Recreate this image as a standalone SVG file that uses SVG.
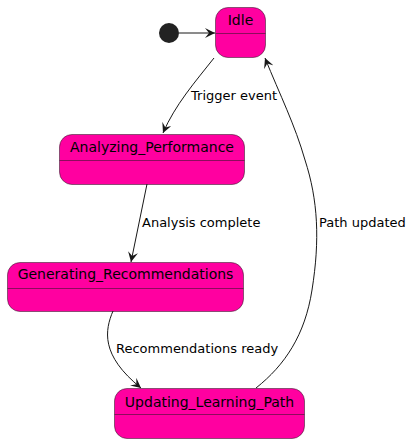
<svg xmlns="http://www.w3.org/2000/svg" width="413" height="443" viewBox="0 0 413 443">
<style>
.st{fill:#FF00A0;stroke:#181818;stroke-width:0.5}
.div{stroke:#181818;stroke-width:0.5}
.name{font-family:"DejaVu Sans",sans-serif;font-size:14px;fill:#000}
.lbl{font-family:"DejaVu Sans",sans-serif;font-size:13px;fill:#000}
.c{fill:none;stroke:#181818;stroke-width:1}
</style>
<defs>
<marker id="ah" viewBox="0 0 10 10" markerWidth="10" markerHeight="10" markerUnits="userSpaceOnUse" refX="10" refY="5" orient="auto">
<path d="M0,0 L10,5 L0,10 L4,5 Z" fill="#181818"/>
</marker>
</defs>
<g id="start"><circle cx="169" cy="33" r="10" fill="#222222"/></g>
<g id="idle">
<rect class="st" x="215.5" y="7.5" width="50" height="50" rx="12.5"/>
<line class="div" x1="215.5" y1="33.5" x2="265.5" y2="33.5"/>
<text class="name" x="240.5" y="25" text-anchor="middle">Idle</text>
</g>
<g id="analyzing">
<rect class="st" x="59.5" y="134.5" width="185" height="50" rx="12.5"/>
<line class="div" x1="59.5" y1="160.5" x2="244.5" y2="160.5"/>
<text class="name" x="152" y="152" text-anchor="middle">Analyzing_Performance</text>
</g>
<g id="generating">
<rect class="st" x="7.5" y="262.5" width="236" height="49" rx="12.5"/>
<line class="div" x1="7.5" y1="288.5" x2="243.5" y2="288.5"/>
<text class="name" x="125.5" y="279" text-anchor="middle">Generating_Recommendations</text>
</g>
<g id="updating">
<rect class="st" x="114.5" y="388.5" width="190" height="50" rx="12.5"/>
<line class="div" x1="114.5" y1="414.5" x2="304.5" y2="414.5"/>
<text class="name" x="209.5" y="407" text-anchor="middle">Updating_Learning_Path</text>
</g>
<g id="connectors">
<path class="c" d="M179,33 L215,33" marker-end="url(#ah)"/>
<path class="c" d="M214,58 C195,82 175,105 163,133" marker-end="url(#ah)"/>
<path class="c" d="M147,184 L131,262" marker-end="url(#ah)"/>
<path class="c" d="M113,311 C105,330 100,355 141,388" marker-end="url(#ah)"/>
<path class="c" d="M256,388 C285,365 305,335 312,290 C320,240 318,200 305,160 C295,125 280,95 265,58" marker-end="url(#ah)"/>
<text class="lbl" x="191" y="100">Trigger event</text>
<text class="lbl" x="142" y="227">Analysis complete</text>
<text class="lbl" x="319" y="227">Path updated</text>
<text class="lbl" x="116" y="353">Recommendations ready</text>
</g>
</svg>
